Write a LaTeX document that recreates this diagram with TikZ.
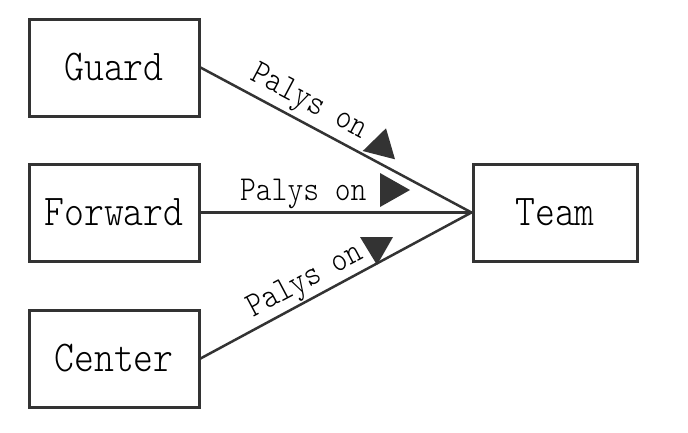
\documentclass[tikz,border=0pt]{standalone}
\usepackage{fontspec}
\newfontfamily\thinmono{lmmonolt10-regular.otf}[FakeStretch=0.86]
\definecolor{ink}{HTML}{333333}
\begin{document}
\begin{tikzpicture}[x=1pt,y=-1pt,
  box/.style={draw=ink,line width=3pt,minimum width=170pt,minimum height=97pt,inner sep=0pt,
    font=\fontsize{44}{48}\thinmono,text=black},
  conn/.style={draw=ink,line width=2.5pt},
  lbl/.style={font=\fontsize{35}{38}\thinmono,text=black,inner sep=0pt},
  tri/.style={fill=ink}]
\useasboundingbox (0,0) rectangle (688,432);
\node[box] (guard) at (114,67.5) {Guard};
\node[box] (forward) at (114,212.5) {Forward};
\node[box] (center) at (114,358.5) {Center};
\node[box,minimum width=164pt] (team) at (555,212.5) {Team};
\draw[conn] (guard.east) -- (team.west);
\draw[conn] (forward.east) -- (team.west);
\draw[conn] (center.east) -- (team.west);
\node[lbl,rotate=-27.9] (lg) at (308.3,103.3) {Palys on};
\node[lbl,anchor=base] (lf) at (303.3,200) {Palys on};
\node[lbl,rotate=27.9] (lc) at (306,282) {Palys on};
\fill[tri] (362.7,151) -- (386,128.3) -- (395,159.3) -- cycle;
\fill[tri] (380,173) -- (380,207) -- (410,190) -- cycle;
\fill[tri] (360,237) -- (393,237) -- (377,265) -- cycle;
\end{tikzpicture}
\end{document}
